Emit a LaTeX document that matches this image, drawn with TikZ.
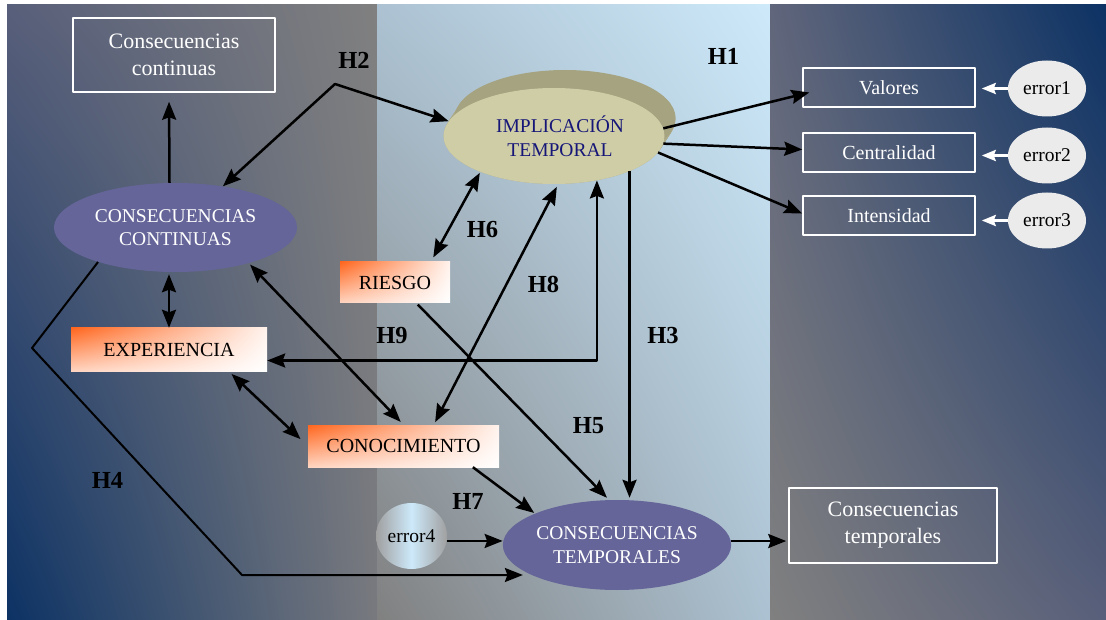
\documentclass[tikz,border=0pt]{standalone}
\usepackage{fontspec}
\setmainfont{Liberation Serif}
\usetikzlibrary{arrows.meta,shapes.geometric,shadings,calc}
\definecolor{navy}{RGB}{12,50,100}
\definecolor{grayb}{RGB}{88,95,122}
\definecolor{midg}{RGB}{128,128,128}
\definecolor{skyb}{RGB}{205,233,250}
\definecolor{paleb}{RGB}{172,194,210}
\definecolor{latentc}{RGB}{101,101,153}
\definecolor{khaki}{RGB}{206,205,166}
\definecolor{khakid}{RGB}{165,163,128}
\definecolor{errc}{RGB}{235,235,235}
\definecolor{orng}{RGB}{255,102,30}
\definecolor{itext}{RGB}{22,22,120}
\tikzset{
	obsbox/.style={draw=white,line width=1.5pt,text=white,align=center,inner sep=0pt},
	latent/.style={ellipse,fill=latentc,text=white,align=center,inner sep=0pt,font=\fontsize{19.5}{23.5}\selectfont},
	errnode/.style={ellipse,fill=errc,inner sep=0pt,minimum width=78pt,minimum height=56pt,font=\fontsize{19.5}{23}\selectfont},
	factor/.style={shade,upper left=orng,upper right=orng!8!white,lower left=orng!28!white,lower right=white,
		inner sep=0pt,minimum height=42pt,font=\fontsize{20}{24}\selectfont},
	hlabel/.style={font=\fontsize{24.5}{29}\selectfont\bfseries},
	link/.style={line width=2.5pt},
	wlink/.style={line width=2.8pt,white,-{Stealth[length=14pt,width=11pt,inset=2pt]}}
}
\begin{document}
\begin{tikzpicture}[x=1pt,y=-1pt,>={Stealth[length=18pt,width=14pt,inset=2.5pt]},line join=round]
	\useasboundingbox (0,0) rectangle (1106,620);
	\shade[upper left=grayb,upper right=midg,lower left=navy,lower right=midg!80!grayb] (7,5) rectangle (377,620);
	\shade[upper left=paleb,upper right=skyb,lower left=midg,lower right=paleb] (377,5) rectangle (770,620);
	\shade[upper left=grayb!80!midg,upper right=navy,lower left=midg,lower right=grayb] (770,5) rectangle (1106,620);
	\node[obsbox,minimum width=202pt,minimum height=74pt,font=\fontsize{22}{27}\selectfont] (CCb) at (174,55) {Consecuencias\\continuas};
	\node[obsbox,minimum width=208pt,minimum height=75pt,font=\fontsize{22}{27}\selectfont] (CTb) at (893,525.5) {Consecuencias\\temporales};
	\foreach \name/\txt/\y in {Val/Valores/87.5,Cen/Centralidad/152.5,Int/Intensidad/215.5}{
		\node[obsbox,minimum width=172pt,minimum height=39pt,font=\fontsize{20}{24}\selectfont] (\name) at (889,\y) {\txt};
	}
	\foreach \i/\y in {1/88.5,2/155.5,3/220.5}{
		\node[errnode] (E\i) at (1047,\y) {error\i};
		\draw[wlink] (E\i.west) -- ([xshift=6pt]E\i.west -| Val.east);
	}
	\node[latent,minimum width=243pt,minimum height=89pt] (CCe) at (175.5,227.5) {CONSECUENCIAS\\CONTINUAS};
	\node[latent,minimum width=227pt,minimum height=90pt] (CT) at (617,545) {CONSECUENCIAS\\TEMPORALES};
	\foreach \k in {0,...,17}{
		\fill[khakid!80!khaki] (554+0.65*\k,136-\k) ellipse (110.5 and 48);
	}
	\fill[khakid] (565,118) ellipse (110.5 and 48);
	\node[ellipse,fill=khaki,minimum width=221pt,minimum height=96pt,inner sep=0pt,text=itext,align=center,
		font=\fontsize{19.5}{23.5}\selectfont] (IT) at (554,136) {\hspace*{12pt}IMPLICACIÓN\\\hspace*{12pt}TEMPORAL};
	\node[factor,minimum width=110pt,minimum height=41pt] (RIE) at (395,282.5) {RIESGO};
	\node[factor,minimum width=196pt,minimum height=43pt] (EXP) at (169,349.5) {EXPERIENCIA\hspace{8pt}};
	\node[factor,minimum width=191pt] (CON) at (403.5,446) {CONOCIMIENTO};
	\node[ellipse,inner sep=0pt,minimum width=71pt,minimum height=66pt,left color=midg!75!white,right color=midg!75!white,
		middle color=skyb,font=\fontsize{19.5}{23}\selectfont] (E4) at (411.5,536) {error4};
	\coordinate (h2) at (335,84);
	\coordinate (h4a) at (32,348);
	\coordinate (h4b) at (242,575);
	\draw[link,->,shorten >=9pt] ([xshift=-6pt]CCe.north) -- ([xshift=-5pt]CCb.south);
	\draw[link,<->] (CCe.41) -- (h2) -- (IT.172);
	\draw[link,<->,shorten <=2pt] (CCe.south -| EXP.north) -- (EXP.north);
	\draw[link,<->,shorten <=2pt,shorten >=4pt] (CCe.-26) -- (CON.north);
	\draw[link,<->,shorten <=4pt,shorten >=10pt] (EXP.-20) -- (CON.west);
	\draw[link,<->] ([yshift=-11pt]EXP.east) -| (IT.-46);
	\draw[link,<->,shorten <=5pt,shorten >=1pt] (RIE.30) -- (IT.206);
	\draw[link,<->,shorten <=3pt,shorten >=3pt] (CON.35) -- (IT.-85);
	\draw[link,->,shorten >=2pt] (IT.-25) -- (IT.-25 |- CT.north);
	\draw[link,->,shorten <=2pt,shorten >=3pt] (RIE.-44) -- (CT.100);
	\draw[link,->,shorten >=1pt] (CON.-17) -- (CT.159);
	\draw[link,->] (E4.-8) -- (E4.-8 -| CT.west);
	\draw[line width=2pt,->,shorten >=10pt] (CCe.204) -- (h4a) -- (h4b) -- (h4b -| CT.200);
	\draw[link,->,shorten >=2pt] (CT.2) -- (CT.2 -| CTb.west);
	\draw[link,->] (IT.4) -- ([shift={(7pt,-5pt)}]Val.west);
	\draw[link,->] (IT.-4) -- ([yshift=3pt]Cen.west);
	\draw[link,->] (IT.-9) -- ([yshift=2pt]Int.west);
	\foreach \h/\x/\y in {1/723.5/56,2/354/60,3/663/335.5,4/107.5/480,5/588.5/426,6/482.5/230,7/468/501,8/543.5/284,9/392/335.5}{
		\node[hlabel] (H\h) at (\x,\y) {H\h};
	}
\end{tikzpicture}
\end{document}
